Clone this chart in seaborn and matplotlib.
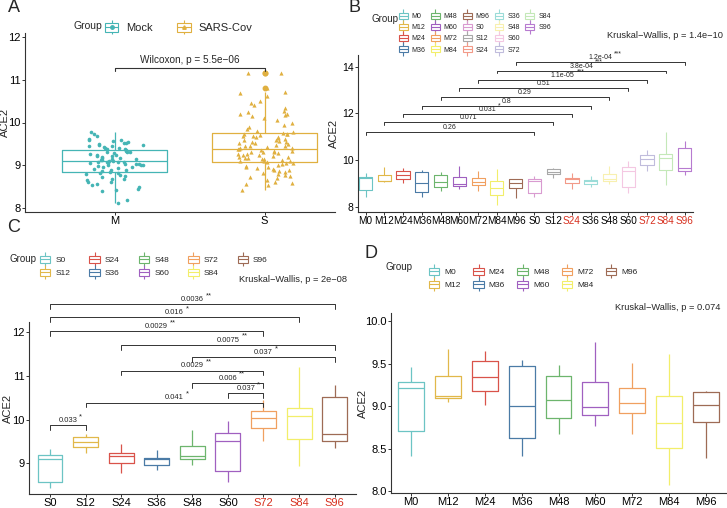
import numpy as np
import pandas as pd
import matplotlib.pyplot as plt
import seaborn as sns
from matplotlib.lines import Line2D
from matplotlib.patches import Patch
from matplotlib.legend_handler import HandlerTuple

sns.set_theme(style="ticks")
plt.rcParams['font.family'] = ['Liberation Sans', 'DejaVu Sans']

# ---- panel A: individual samples ----
mock_vals = [8.13, 8.18, 8.40, 8.42, 8.45, 8.50, 8.53, 8.56, 8.60, 8.62, 8.65, 8.67, 8.68, 8.72,
             8.75, 8.78, 8.80, 8.81, 8.83, 8.84, 8.86, 8.88, 8.90, 8.92, 8.93, 8.95, 8.97, 8.98,
             9.00, 9.00, 9.01, 9.02, 9.03, 9.04, 9.05, 9.06, 9.07, 9.07, 9.08, 9.08, 9.10, 9.11,
             9.12, 9.13, 9.14, 9.15, 9.17, 9.18, 9.20, 9.21, 9.22, 9.24, 9.25, 9.27, 9.28, 9.30,
             9.31, 9.32, 9.34, 9.35, 9.37, 9.38, 9.40, 9.41, 9.42, 9.44, 9.45, 9.47, 9.48, 9.50,
             9.51, 9.52, 9.55, 9.57, 9.58, 9.60, 9.62, 9.68, 9.72, 9.77]
sars_vals = [8.43, 8.55, 8.56, 8.58, 8.62, 8.65, 8.70, 8.72, 8.75, 8.78, 8.80, 8.82, 8.84, 8.86,
             8.88, 8.90, 8.92, 8.94, 8.95, 8.97, 8.99, 9.01, 9.03, 9.05, 9.06, 9.08, 9.09, 9.10,
             9.11, 9.12, 9.14, 9.15, 9.16, 9.18, 9.19, 9.20, 9.22, 9.23, 9.25, 9.26, 9.27, 9.28,
             9.30, 9.31, 9.32, 9.33, 9.34, 9.36, 9.37, 9.38, 9.40, 9.41, 9.42, 9.44, 9.45, 9.46,
             9.48, 9.50, 9.51, 9.52, 9.54, 9.55, 9.56, 9.58, 9.60, 9.62, 9.63, 9.65, 9.66, 9.68,
             9.69, 9.70, 9.72, 9.73, 9.74, 9.76, 9.78, 9.80, 9.85, 9.90, 9.95, 10.00, 10.05, 10.10,
             10.15, 10.18, 10.20, 10.20, 10.25, 10.28, 10.35, 10.40, 10.45, 10.50, 10.62, 10.68,
             10.72, 10.80, 11.15, 11.15]

# ---- panels B, C, D: box summaries (whisker low, q1, median, q3, whisker high) ----
m_groups = ['M0', 'M12', 'M24', 'M36', 'M48', 'M60', 'M72', 'M84', 'M96']
m_low = [8.42, 9.05, 9.02, 8.41, 8.67, 8.77, 8.67, 8.08, 8.39]
m_q1 = [8.71, 9.10, 9.18, 8.63, 8.86, 8.90, 8.92, 8.51, 8.82]
m_med = [9.22, 9.12, 9.35, 9.00, 9.07, 8.99, 9.04, 8.80, 9.02]
m_q3 = [9.29, 9.36, 9.54, 9.47, 9.36, 9.29, 9.22, 9.12, 9.17]
m_high = [9.46, 9.68, 9.65, 9.55, 9.49, 9.76, 9.51, 9.62, 9.18]

s_groups = ['S0', 'S12', 'S24', 'S36', 'S48', 'S60', 'S72', 'S84', 'S96']
s_low = [8.43, 9.23, 8.77, 8.85, 8.96, 8.57, 9.51, 8.94, 9.34]
s_q1 = [8.57, 9.38, 9.00, 8.96, 9.09, 8.83, 9.80, 9.55, 9.52]
s_med = [9.10, 9.48, 9.17, 9.09, 9.17, 9.51, 10.04, 10.08, 9.67]
s_q3 = [9.18, 9.61, 9.24, 9.13, 9.39, 9.70, 10.20, 10.27, 10.52]
s_high = [9.33, 9.67, 9.44, 9.30, 9.76, 9.97, 10.44, 11.20, 10.80]

# pairwise comparisons
b_pairs = [('M0', 'S0', '0.26', ''), ('M12', 'S12', '0.071', ''), ('M24', 'S24', '0.031', '*'),
           ('M36', 'S36', '0.8', ''), ('M48', 'S48', '0.29', ''), ('M60', 'S60', '0.51', ''),
           ('M72', 'S72', '1.1e-05', '***'), ('M84', 'S84', '3.8e-04', '***'),
           ('M96', 'S96', '1.2e-04', '***')]
b_levels = [11.21, 11.62, 11.97, 12.32, 12.69, 13.07, 13.43, 13.83, 14.19]

c_pairs = [('S0', 'S12', '0.033', '*'), ('S12', 'S72', '0.041', '*'), ('S60', 'S72', '0.037', '*'),
           ('S48', 'S72', '0.006', '**'), ('S24', 'S72', '0.0029', '**'), ('S48', 'S96', '0.037', '*'),
           ('S24', 'S96', '0.0075', '**'), ('S0', 'S72', '0.0029', '**'), ('S0', 'S84', '0.016', '*'),
           ('S0', 'S96', '0.0036', '**')]
c_levels = [9.87, 10.39, 10.61, 10.84, 11.12, 11.43, 11.71, 12.02, 12.34, 12.64]

base_colors = ['#6CC4C4', '#E1B84A', '#D9534A', '#4B7BA6', '#6DB56D',
               '#A060C0', '#F0A060', '#F2EE6A', '#9E6B55']
extra_s_colors = ['#D99BD0', '#A8A8A8', '#F29A88', '#9BDCD8', '#F8F0B0',
                  '#F4C8E2', '#C0BCDC', '#C4E8B8', '#B77BD0']
red_ticks = ['S24', 'S72', 'S84', 'S96']
mock_col, sars_col = '#45B5B5', '#E0B040'
ink = '#333333'


def long_table(groups, low, q1, med, q3, high):
    rows = []
    for i, g in enumerate(groups):
        for v in (low[i], q1[i], med[i], q3[i], high[i]):
            rows.append({'Group': g, 'ACE2': v})
    return pd.DataFrame(rows)


def style_axes(ax, tick_size, ylab_x):
    sns.despine(ax=ax)
    for s in ('left', 'bottom'):
        ax.spines[s].set_color(ink)
        ax.spines[s].set_linewidth(0.8)
    ax.tick_params(axis='both', labelsize=tick_size, length=2.2, width=0.7,
                   color=ink, labelcolor='black', pad=1)
    ax.set_xlabel('')
    ax.set_ylabel('ACE2', fontsize=8)
    ax.yaxis.set_label_coords(ylab_x, 0.5)


def box_key(color, marker=None):
    parts = [Line2D([], [], color=color, marker='|', markersize=10, linestyle='none',
                    markeredgewidth=0.8),
             Patch(facecolor='white', edgecolor=color, linewidth=0.8),
             Line2D([], [], color=color, lw=0.8)]
    if marker:
        parts.append(Line2D([], [], color=color, marker=marker, markersize=2.5,
                            linestyle='none'))
    return tuple(parts)


def bracket(ax, order, g1, g2, y, p, stars, tick, size):
    x1, x2 = order.index(g1), order.index(g2)
    ax.plot([x1, x1, x2, x2], [y - tick, y, y, y - tick], color=ink, lw=0.7,
            clip_on=False)
    t = ax.annotate(p, xy=((x1 + x2) / 2, y), xytext=(0, 0.8), textcoords='offset points',
                    ha='center', va='bottom', fontsize=size, annotation_clip=False)
    if stars:
        ax.annotate(stars, xy=(1, 0.55), xycoords=t, xytext=(1.5, 0),
                    textcoords='offset points', ha='left', va='bottom', fontsize=size)


def group_legend(fig, groups, colors, anchor, title_xy, size, colsp, pad=0):
    handles = [box_key(c) for c in colors] + [Patch(alpha=0)] * pad
    labels = list(groups) + [''] * pad
    fig.legend(handles, labels, handler_map={tuple: HandlerTuple(ndivide=1)},
               ncol=5, loc='upper left', bbox_to_anchor=anchor, frameon=False,
               fontsize=size, handlelength=1.25, handleheight=0.9, handletextpad=0.6,
               labelspacing=0.55, columnspacing=colsp, borderpad=0, borderaxespad=0)
    fig.text(title_xy[0], title_xy[1], 'Group', fontsize=7, ha='left', va='top')


W, H = 727, 508
fig = plt.figure(figsize=(W / 100, H / 100), dpi=100)


def add_axes(l, r, t, b):
    return fig.add_axes([l / W, 1 - b / H, (r - l) / W, (b - t) / H])


# ---------------- A ----------------
axA = add_axes(25, 335, 33, 212)
dfA = pd.DataFrame({'Group': ['Mock'] * len(mock_vals) + ['SARS-Cov'] * len(sars_vals),
                    'ACE2': mock_vals + sars_vals})
dfA['Type'] = dfA['Group'].map({'Mock': 'M', 'SARS-Cov': 'S'})
sns.boxplot(data=dfA, x='Type', y='ACE2', hue='Group', order=['M', 'S'],
            palette=[mock_col, sars_col], fill=False, width=0.7, linewidth=0.9,
            showcaps=False, flierprops=dict(marker='o', markersize=3.2), legend=False, ax=axA)
for ln in axA.lines:
    if ln.get_marker() == 'o':
        ln.set_markerfacecolor(ln.get_markeredgecolor())
np.random.seed(3)
sns.stripplot(data=dfA[dfA['Type'] == 'M'], x='Type', y='ACE2', order=['M', 'S'],
              color=mock_col, marker='o', size=2.6, jitter=0.2, ax=axA)
sns.stripplot(data=dfA[dfA['Type'] == 'S'], x='Type', y='ACE2', order=['M', 'S'],
              color=sars_col, marker='^', size=3.0, jitter=0.2, ax=axA)
axA.set_xlim(-0.6, 1.47)
axA.set_ylim(7.91, 12.09)
axA.set_yticks([8, 9, 10, 11, 12])
style_axes(axA, 8, -0.05)
axA.plot([0, 0, 1, 1], [11.2, 11.27, 11.27, 11.2], color=ink, lw=0.8)
axA.text(0.5, 11.34, 'Wilcoxon, p = 5.5e\u221206', ha='center', va='bottom', fontsize=7.2)
fig.legend([box_key(mock_col, 'o'), box_key(sars_col, '^')], ['Mock', 'SARS-Cov'],
           handler_map={tuple: HandlerTuple(ndivide=1)}, ncol=2, loc='center left',
           bbox_to_anchor=(105 / W, 1 - 28 / H), frameon=False, fontsize=8,
           handlelength=1.2, handleheight=0.9, handletextpad=0.7, columnspacing=2.2,
           borderpad=0, borderaxespad=0)
fig.text(73 / W, 1 - 21 / H, 'Group', fontsize=7.5, ha='left', va='top')

# ---------------- B ----------------
axB = add_axes(358, 693, 55, 212)
all_groups = m_groups + s_groups
dfB = long_table(all_groups, m_low + s_low, m_q1 + s_q1, m_med + s_med,
                 m_q3 + s_q3, m_high + s_high)
b_colors = base_colors + extra_s_colors
sns.boxplot(data=dfB, x='Group', y='ACE2', hue='Group', order=all_groups,
            hue_order=all_groups, palette=b_colors, fill=False, whis=(0, 100),
            width=0.7, linewidth=0.8, showcaps=False, legend=False, ax=axB)
axB.set_xlim(-0.4, 17.45)
axB.set_ylim(7.77, 14.5)
axB.set_yticks([8, 10, 12, 14])
style_axes(axB, 7.5, -0.056)
axB.tick_params(axis='x', labelsize=7.2)
for lab in axB.get_xticklabels():
    if lab.get_text() in red_ticks:
        lab.set_color('#D7301F')
for (g1, g2, p, st), y in zip(b_pairs, b_levels):
    bracket(axB, all_groups, g1, g2, y, p, st, 0.12, 5)
group_legend(fig, all_groups, b_colors, (399 / W, 1 - 13 / H), (372 / W, 1 - 14 / H),
             5, 0.75, pad=2)
fig.text(723 / W, 1 - 36 / H, 'Kruskal\u2212Wallis, p = 1.4e\u221210', ha='right',
         va='center', fontsize=6.7)

# ---------------- C ----------------
axC = add_axes(29, 356, 322, 494)
dfC = long_table(s_groups, s_low, s_q1, s_med, s_q3, s_high)
sns.boxplot(data=dfC, x='Group', y='ACE2', hue='Group', order=s_groups,
            hue_order=s_groups, palette=base_colors, fill=False, whis=(0, 100),
            width=0.7, linewidth=0.9, showcaps=False, legend=False, ax=axC)
axC.set_xlim(-0.59, 8.6)
axC.set_ylim(8.3, 12.23)
axC.set_yticks([9, 10, 11, 12])
style_axes(axC, 8, -0.048)
for lab in axC.get_xticklabels():
    if lab.get_text() in red_ticks[1:]:
        lab.set_color('#D7301F')
for (g1, g2, p, st), y in zip(c_pairs, c_levels):
    bracket(axC, s_groups, g1, g2, y, p, st, 0.11, 5.5)
group_legend(fig, s_groups, base_colors, (40 / W, 1 - 256 / H), (10 / W, 1 - 254 / H),
             6, 2.3)
fig.text(347 / W, 1 - 280 / H, 'Kruskal\u2212Wallis, p = 2e\u221208', ha='right',
         va='center', fontsize=6.7)

# ---------------- D ----------------
axD = add_axes(391, 726, 313, 493)
dfD = long_table(m_groups, m_low, m_q1, m_med, m_q3, m_high)
sns.boxplot(data=dfD, x='Group', y='ACE2', hue='Group', order=m_groups,
            hue_order=m_groups, palette=base_colors, fill=False, whis=(0, 100),
            width=0.7, linewidth=0.9, showcaps=False, legend=False, ax=axD)
axD.set_xlim(-0.55, 8.55)
axD.set_ylim(7.98, 10.1)
axD.set_yticks([8.0, 8.5, 9.0, 9.5, 10.0])
axD.set_yticklabels(['8.0', '8.5', '9.0', '9.5', '10.0'])
style_axes(axD, 8, -0.068)
group_legend(fig, m_groups, base_colors, (429 / W, 1 - 268 / H), (386 / W, 1 - 262 / H),
             6, 1.5)
fig.text(720 / W, 1 - 308 / H, 'Kruskal\u2212Wallis, p = 0.074', ha='right',
         va='center', fontsize=6.7)

# panel letters
for letter, x, y in [('A', 8, 8), ('B', 349, 8), ('C', 7, 228), ('D', 364, 254)]:
    fig.text(x / W, 1 - y / H, letter, fontsize=13, ha='left', va='center')

fig.savefig('out.png', dpi=100)
